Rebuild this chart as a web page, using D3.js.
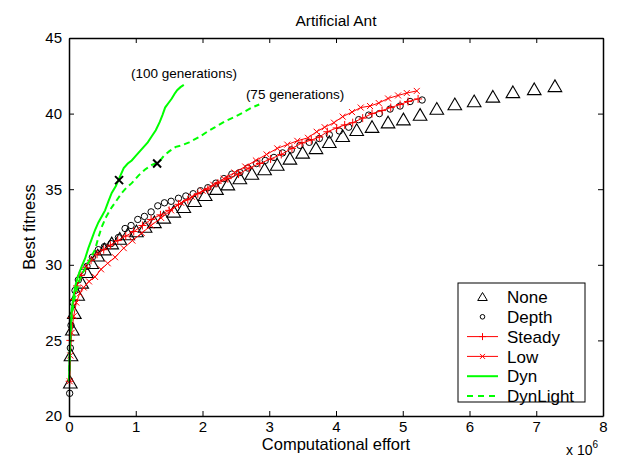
<!DOCTYPE html>
<html><head><meta charset="utf-8">
<script src="https://cdnjs.cloudflare.com/ajax/libs/d3/7.8.5/d3.min.js"></script>
<style>
body{margin:0;background:#fff}
svg{display:block}
text{font-family:"Liberation Sans",Arial,Helvetica,sans-serif;fill:#000}
</style>
</head><body>
<svg id="chart" width="624" height="457"></svg>
<script>
// ---- data (x in units of 10^6 computational effort, y = best fitness) ----
const title = "Artificial Ant";
const xTicks = [0,1,2,3,4,5,6,7,8];
const yTicks = [20,25,30,35,40,45];
const seriesNames = ["None","Depth","Steady","Low","Dyn","DynLight"];

const noneX = [0.02,0.03,0.05,0.08,0.13,0.19,0.26,0.34,0.43,0.53,0.64,0.76,0.88,1.01,1.14,1.28,1.42,1.57,1.72,1.88,2.04,2.21,2.38,2.56,2.74,2.93,3.12,3.31,3.50,3.70,3.90,4.10,4.31,4.54,4.78,5.01,5.26,5.51,5.78,6.07,6.35,6.65,6.97,7.28];
const noneY = [22.2,24.0,25.7,26.8,28.0,28.8,29.5,30.1,30.6,31.0,31.4,31.7,32.0,32.2,32.5,32.8,33.1,33.5,33.8,34.2,34.6,35.0,35.3,35.7,36.0,36.3,36.6,37.0,37.4,37.7,38.1,38.5,38.9,39.1,39.4,39.6,39.9,40.3,40.6,40.8,41.1,41.4,41.6,41.8];

const depthX = [0.01,0.02,0.03,0.06,0.09,0.14,0.20,0.27,0.35,0.44,0.53,0.63,0.74,0.84,0.93,1.03,1.13,1.23,1.33,1.43,1.53,1.64,1.75,1.86,1.97,2.08,2.20,2.32,2.44,2.56,2.68,2.81,2.94,3.07,3.20,3.33,3.46,3.60,3.75,3.90,4.05,4.19,4.34,4.49,4.65,4.81,4.96,5.11,5.29];
const depthY = [21.5,24.5,26.0,27.5,28.3,29.0,29.5,29.9,30.5,31.0,31.2,31.4,31.8,32.4,32.6,33.0,33.2,33.5,33.9,34.1,34.2,34.4,34.55,34.7,34.9,35.1,35.4,35.7,36.0,36.1,36.4,36.7,36.9,37.1,37.4,37.6,37.9,38.1,38.35,38.6,38.85,39.1,39.6,39.9,40.0,40.3,40.5,40.8,40.9];

const steadyX = [0.01,0.02,0.04,0.07,0.12,0.18,0.25,0.33,0.42,0.52,0.62,0.73,0.85,0.97,1.10,1.23,1.37,1.50,1.64,1.78,1.93,2.08,2.23,2.38,2.54,2.70,2.86,3.02,3.18,3.34,3.49,3.63,3.75,3.87,4.01,4.13,4.25,4.40,4.54,4.69,4.82,4.96,5.08,5.23];
const steadyY = [22.3,25.0,26.5,27.7,28.6,29.3,29.8,30.3,30.7,31.0,31.3,31.6,31.9,32.2,32.6,33.0,33.3,33.6,34.0,34.3,34.7,35.0,35.4,35.7,36.0,36.4,36.7,37.0,37.3,37.7,38.06,38.25,38.45,38.8,39.05,39.25,39.4,39.7,40.0,40.2,40.4,40.6,40.8,40.97];

const lowX = [0.01,0.02,0.04,0.07,0.11,0.16,0.22,0.30,0.39,0.48,0.58,0.69,0.82,0.95,1.09,1.23,1.38,1.53,1.68,1.84,2.00,2.16,2.32,2.48,2.64,2.80,2.96,3.12,3.27,3.42,3.58,3.71,3.83,3.97,4.10,4.24,4.37,4.51,4.64,4.78,4.93,5.06,5.21];
const lowY = [22.3,24.0,25.5,26.6,27.5,28.1,28.5,28.9,29.2,29.7,30.1,30.5,31.1,31.6,32.1,32.6,33.1,33.6,34.1,34.5,34.9,35.3,35.7,36.1,36.5,36.9,37.3,37.7,37.95,38.2,38.4,38.8,39.1,39.4,39.8,40.1,40.4,40.5,40.7,41.0,41.2,41.36,41.5];

const dynX = [0.00,0.01,0.02,0.04,0.07,0.10,0.14,0.19,0.24,0.29,0.34,0.39,0.44,0.49,0.54,0.59,0.64,0.70,0.76,0.82,0.88,0.94,1.00,1.06,1.12,1.18,1.24,1.30,1.36,1.40,1.44,1.49,1.54,1.58,1.62,1.67,1.72];
const dynY = [22.3,24.0,25.6,27.0,28.0,28.7,29.3,29.9,30.4,31.1,31.7,32.3,32.8,33.2,33.6,34.2,34.75,35.2,35.8,36.4,36.7,36.9,37.2,37.5,37.8,38.1,38.5,38.9,39.45,39.9,40.4,40.7,41.0,41.3,41.55,41.75,41.9];

const dynLightX = [0.00,0.01,0.02,0.04,0.07,0.11,0.16,0.21,0.27,0.33,0.39,0.44,0.49,0.56,0.64,0.72,0.79,0.86,0.94,1.04,1.14,1.24,1.35,1.42,1.50,1.60,1.69,1.80,1.95,2.07,2.19,2.34,2.49,2.62,2.74,2.85];
const dynLightY = [22.3,23.8,25.2,26.5,27.5,28.3,29.0,29.5,30.0,30.5,31.0,31.8,32.5,33.2,33.8,34.3,34.75,35.1,35.4,35.9,36.3,36.6,36.8,37.2,37.5,37.8,37.9,38.1,38.45,38.8,39.1,39.5,39.8,40.1,40.4,40.6];

// generation markers (black x) on Dyn and DynLight
const genMarkX = [0.75,1.32];
const genMarkY = [35.6,36.7];
const annotations = ["(100 generations)","(75 generations)"];
const annotX = [0.93,2.65];
const annotY = [42.35,40.98];

// ---- layout ----
const W = 624, H = 457;
const m = {left:69, top:38, right:21, bottom:41};
const iw = W - m.left - m.right, ih = H - m.top - m.bottom;
const TICKFONT = 15, LABELFONT = 16.5, LEGFONT = 17;

const svg = d3.select("#chart");
const g = svg.append("g").attr("transform",`translate(${m.left},${m.top})`);
const x = d3.scaleLinear().domain([0,8]).range([0,iw]);
const y = d3.scaleLinear().domain([20,45]).range([ih,0]);

const zip = (a,b)=>a.map((v,i)=>[v,b[i]]);
const line = d3.line().x(d=>x(d[0])).y(d=>y(d[1]));

// title
svg.append("text").attr("x", m.left+iw/2).attr("y", 26).attr("text-anchor","middle")
  .style("font-size","15.5px").text(title);

const plot = g.append("g");

// None: triangles
plot.append("g").selectAll("path").data(zip(noneX,noneY)).join("path")
  .attr("transform",d=>`translate(${x(d[0])},${y(d[1])})`)
  .attr("d","M0,-6.5L6.8,5.2L-6.8,5.2Z")
  .attr("fill","none").attr("stroke","#000").attr("stroke-width",1.1);

// Depth: circles
plot.append("g").selectAll("circle").data(zip(depthX,depthY)).join("circle")
  .attr("cx",d=>x(d[0])).attr("cy",d=>y(d[1])).attr("r",3.2)
  .attr("fill","none").attr("stroke","#000").attr("stroke-width",1);

// Steady: red line with +
plot.append("path").datum(zip(steadyX,steadyY)).attr("d",line)
  .attr("fill","none").attr("stroke","#ff0000").attr("stroke-width",1);
plot.append("g").selectAll("path").data(zip(steadyX,steadyY)).join("path")
  .attr("transform",d=>`translate(${x(d[0])},${y(d[1])})`)
  .attr("d","M-4,0H4M0,-4V4").attr("stroke","#ff0000").attr("stroke-width",1);

// Low: red line with x
plot.append("path").datum(zip(lowX,lowY)).attr("d",line)
  .attr("fill","none").attr("stroke","#ff0000").attr("stroke-width",1);
plot.append("g").selectAll("path").data(zip(lowX,lowY)).join("path")
  .attr("transform",d=>`translate(${x(d[0])},${y(d[1])})`)
  .attr("d","M-3,-3L3,3M3,-3L-3,3").attr("stroke","#ff0000").attr("stroke-width",1);

// Dyn: solid green
plot.append("path").datum(zip(dynX,dynY)).attr("d",line)
  .attr("fill","none").attr("stroke","#00ff00").attr("stroke-width",2);
// DynLight: dashed green
plot.append("path").datum(zip(dynLightX,dynLightY)).attr("d",line)
  .attr("fill","none").attr("stroke","#00ff00").attr("stroke-width",2)
  .attr("stroke-dasharray","6,4");

// generation markers
plot.append("g").selectAll("path").data(zip(genMarkX,genMarkY)).join("path")
  .attr("transform",d=>`translate(${x(d[0])},${y(d[1])})`)
  .attr("d","M-4,-4L4,4M4,-4L-4,4").attr("stroke","#000").attr("stroke-width",2);

// annotations
g.append("g").selectAll("text").data(annotations).join("text")
  .attr("x",(d,i)=>x(annotX[i])).attr("y",(d,i)=>y(annotY[i]))
  .style("font-size","13.5px").text(d=>d);

// axes (MATLAB style: ticks inside, box)
const axB = g.append("g").attr("transform",`translate(0,${ih})`)
  .call(d3.axisBottom(x).tickValues(xTicks).tickFormat(d3.format("d")).tickSizeInner(-5).tickSizeOuter(0).tickPadding(5));
const axT = g.append("g")
  .call(d3.axisTop(x).tickValues(xTicks).tickFormat("").tickSizeInner(-5).tickSizeOuter(0));
const axL = g.append("g")
  .call(d3.axisLeft(y).tickValues(yTicks).tickFormat(d3.format("d")).tickSizeInner(-5).tickSizeOuter(0).tickPadding(7));
const axR = g.append("g").attr("transform",`translate(${iw},0)`)
  .call(d3.axisRight(y).tickValues(yTicks).tickFormat("").tickSizeInner(-5).tickSizeOuter(0));
[axB,axT,axL,axR].forEach(a=>{
  a.selectAll("path.domain").attr("stroke","#000").attr("stroke-width",1.5);
  a.selectAll(".tick line").attr("stroke","#000");
  a.selectAll("text").style("font-size",TICKFONT+"px").attr("fill","#000")
   .style("font-family",'"Liberation Sans",Arial,sans-serif');
});

// axis labels
svg.append("text").attr("x", m.left+iw/2).attr("y", 450).attr("text-anchor","middle")
  .style("font-size",LABELFONT+"px").text("Computational effort");
svg.append("text").attr("transform",`translate(35,${m.top+ih/2}) rotate(-90)`)
  .attr("text-anchor","middle").style("font-size",LABELFONT+"px").text("Best fitness");
const ex = svg.append("text").attr("x",566).attr("y",455).style("font-size","14px");
ex.append("tspan").text("x 10");
ex.append("tspan").attr("dy",-7).style("font-size","10px").text("6");

// legend
const lg = svg.append("g");
lg.append("rect").attr("x",458).attr("y",283).attr("width",127).attr("height",119)
  .attr("fill","#fff").attr("stroke","#000").attr("stroke-width",1);
const rowY = i => 297 + i*19.8;
const sx0 = 467, sx1 = 498, sxc = (sx0+sx1)/2;
seriesNames.forEach((name,i)=>{
  const yy = rowY(i);
  lg.append("text").attr("x",507).attr("y",yy).attr("dy","0.36em")
    .style("font-size",LEGFONT+"px").text(name);
});
// None
lg.append("path").attr("transform",`translate(${sxc},${rowY(0)})`)
  .attr("d","M0,-4.5L4.8,3.5L-4.8,3.5Z").attr("fill","none").attr("stroke","#000");
// Depth
lg.append("circle").attr("cx",sxc).attr("cy",rowY(1)).attr("r",2.3)
  .attr("fill","none").attr("stroke","#000");
// Steady
lg.append("line").attr("x1",sx0).attr("x2",sx1).attr("y1",rowY(2)).attr("y2",rowY(2)).attr("stroke","#ff0000");
lg.append("path").attr("transform",`translate(${sxc},${rowY(2)})`).attr("d","M-3.5,0H3.5M0,-3.5V3.5").attr("stroke","#ff0000");
// Low
lg.append("line").attr("x1",sx0).attr("x2",sx1).attr("y1",rowY(3)).attr("y2",rowY(3)).attr("stroke","#ff0000");
lg.append("path").attr("transform",`translate(${sxc},${rowY(3)})`).attr("d","M-2.5,-2.5L2.5,2.5M2.5,-2.5L-2.5,2.5").attr("stroke","#ff0000");
// Dyn
lg.append("line").attr("x1",sx0).attr("x2",sx1).attr("y1",rowY(4)).attr("y2",rowY(4)).attr("stroke","#00ff00").attr("stroke-width",2);
// DynLight
lg.append("line").attr("x1",sx0).attr("x2",sx1).attr("y1",rowY(5)).attr("y2",rowY(5)).attr("stroke","#00ff00").attr("stroke-width",2).attr("stroke-dasharray","6,5");
</script>
</body></html>
